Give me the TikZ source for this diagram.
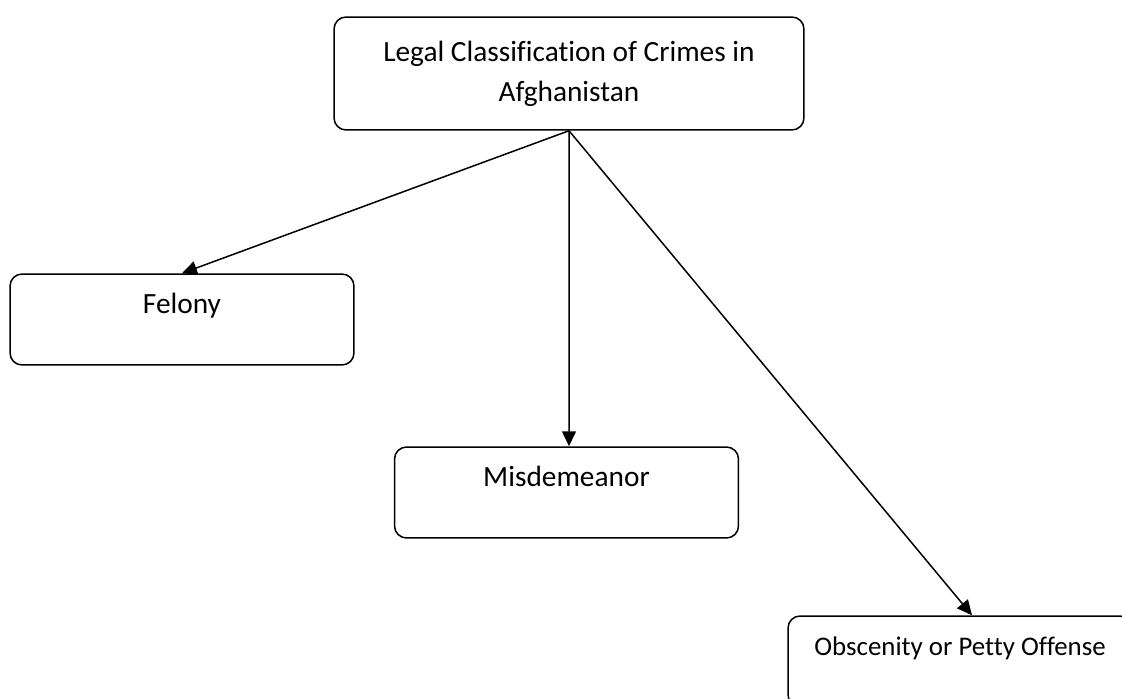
\documentclass[tikz,border=0pt]{standalone}
\usepackage{fontspec}
\setmainfont{Carlito}[Ligatures=NoCommon]
\usetikzlibrary{arrows.meta}
\tikzset{
	boxstyle/.style={rectangle,rounded corners=0.24cm,draw=black,line width=0.03cm,fill=white,inner sep=0,minimum width=6.88cm},
	headstyle/.style={boxstyle,minimum width=9.4cm,minimum height=2.26cm,align=center},
	lowstyle/.style={boxstyle,text height=0.78cm,text depth=1.04cm},
	linkstyle/.style={-{Triangle[length=0.3cm,width=0.28cm]},line width=0.03cm}
}

\begin{document}
\begin{tikzpicture}[x=0.02cm,y=-0.02cm]
	\fontsize{16.7}{22.7}\selectfont
	\useasboundingbox (0,0) rectangle (1122,699);
	\clip (0,0) rectangle (1122,699);
	\node[headstyle] (crimes) at (569,73.5) {Legal Classification of Crimes in\\Afghanistan};
	\node[lowstyle] (felony) at (182,319.5) {Felony};
	\node[lowstyle] (misd) at (566.5,492.5) {Misdemeanor};
	\node[lowstyle,font=\fontsize{15.3}{20}\selectfont] (petty) at (960,661.5) {Obscenity or Petty Offense};
	\draw[linkstyle] (crimes.south)--(felony.north);
	\draw[linkstyle] (crimes.south)--([xshift=0.05cm]misd.north);
	\draw[linkstyle] (crimes.south)--([xshift=0.24cm]petty.north);
\end{tikzpicture}
\end{document}
